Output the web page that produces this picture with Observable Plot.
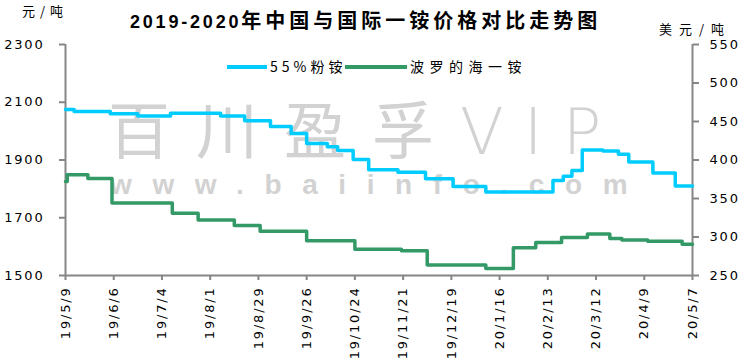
<!DOCTYPE html>
<html><head><meta charset="utf-8">
<script src="https://cdn.jsdelivr.net/npm/d3@7"></script>
<script src="https://cdn.jsdelivr.net/npm/@observablehq/plot@0.6"></script>
<style>
body{margin:0;background:#fff;}
#wrap{position:relative;width:748px;height:362px;overflow:hidden;background:#fff;font-family:"Noto Sans CJK SC","DejaVu Sans",sans-serif;color:#000;}
.abs{position:absolute;white-space:nowrap;line-height:1;}
#chart{position:absolute;left:0;top:0;}
.wm{color:#d2d2d2;}
</style></head><body>
<div id="wrap">
  <div class="abs wm" style="left:108px;top:96px;font-size:62px;font-weight:400;letter-spacing:26px;">百川盈孚<span style="font-family:'DejaVu Sans';font-weight:200;font-size:64px;letter-spacing:20px;">VIP</span></div>
  <div class="abs wm" style="left:110px;top:171px;font-family:'Liberation Sans';font-weight:bold;font-size:28px;letter-spacing:20.6px;">www.baiinfo.com</div>
  <div id="chart"></div>
  <div class="abs" style="left:130px;top:8px;line-height:24px;font-weight:bold;"><span style="font-family:'Liberation Sans';font-size:18px;letter-spacing:2.8px;">2019-2020</span><span style="font-family:'Noto Sans CJK SC';font-size:20px;letter-spacing:4px;">年中国与国际一铵价格对比走势图</span></div>
  <div class="abs" style="left:22px;top:4px;font-size:13px;letter-spacing:5px;">元/吨</div>
  <div class="abs" style="left:659px;top:22px;font-size:13px;letter-spacing:7px;">美元/吨</div>
  <div class="abs" style="left:227px;top:65px;width:40px;height:4px;background:#00ccff;"></div>
  <div class="abs" style="left:270px;top:59px;font-size:14px;letter-spacing:4px;">55%粉铵</div>
  <div class="abs" style="left:345px;top:65px;width:62px;height:4px;background:#339966;"></div>
  <div class="abs" style="left:410px;top:59px;font-size:14px;letter-spacing:5.5px;">波罗的海一铵</div>
</div>
<script>
const tickLabels = ["19/5/9","19/6/6","19/7/4","19/8/1","19/8/29","19/9/26","19/10/24","19/11/21","19/12/19","20/1/16","20/2/13","20/3/12","20/4/9","20/5/7"];
const leftTicks = [1500, 1700, 1900, 2100, 2300];
const rightTicks = [250, 300, 350, 400, 450, 500, 550];

// 55%粉铵 (元/吨)
const cyanDates = ["2019-05-09","2019-05-14","2019-06-04","2019-06-20","2019-07-09","2019-08-07","2019-08-21","2019-09-05","2019-09-17","2019-09-26","2019-10-08","2019-10-14","2019-10-23","2019-11-01","2019-11-18","2019-12-04","2019-12-20","2020-01-08","2020-02-16","2020-02-22","2020-02-27","2020-03-04","2020-03-16","2020-03-25","2020-03-31","2020-04-14","2020-04-27","2020-05-07"];
const cyanValues = [2075,2068,2060,2052,2062,2052,2036,2016,1992,1957,1946,1933,1902,1866,1858,1835,1808,1789,1829,1844,1864,1935,1931,1920,1893,1855,1810,1810];

// 波罗的海一铵 (美元/吨)
const greenDates = ["2019-05-09","2019-05-10","2019-05-22","2019-06-05","2019-07-10","2019-07-25","2019-08-15","2019-08-30","2019-09-26","2019-10-24","2019-11-20","2019-12-05","2020-01-08","2020-01-24","2020-02-06","2020-02-21","2020-03-07","2020-03-20","2020-03-27","2020-04-11","2020-05-01","2020-05-07"];
const greenValues = [372,381,376,344,331,322,315,307.5,295,284,282,263.5,259,286,293,299.5,304,298,296,294.5,290.5,290.5];

const parseTick = s => { const [y, m, d] = s.split("/").map(Number); return new Date(Date.UTC(2000 + y, m - 1, d)); };
const tickDates = tickLabels.map(parseTick);
const L0 = leftTicks[0], L1 = leftTicks[leftTicks.length - 1];
const R0 = rightTicks[0], R1 = rightTicks[rightTicks.length - 1];
const toLeft = v => L0 + (v - R0) * (L1 - L0) / (R1 - R0);
const toRight = v => R0 + (v - L0) * (R1 - R0) / (L1 - L0);

const cyan = cyanDates.map((d, i) => ({date: new Date(d), value: cyanValues[i]}));
const green = greenDates.map((d, i) => ({date: new Date(d), value: toLeft(greenValues[i])}));
const labelOf = d => tickLabels[tickDates.findIndex(t => +t === +d)];

const axisGrey = "#868686";
const chart = Plot.plot({
  width: 748, height: 362,
  marginLeft: 65, marginRight: 56, marginTop: 44, marginBottom: 87,
  style: {background: "transparent", fontFamily: "'DejaVu Sans', sans-serif", fontSize: "13px", letterSpacing: "1.8px", color: "#000", overflow: "visible"},
  x: {type: "utc", domain: [tickDates[0], tickDates[tickDates.length - 1]]},
  y: {domain: [L0, L1]},
  marks: [
    Plot.ruleX([tickDates[0]], {stroke: axisGrey, strokeWidth: 2}),
    Plot.ruleX([tickDates[tickDates.length - 1]], {stroke: axisGrey, strokeWidth: 2}),
    Plot.ruleY([L0], {stroke: axisGrey, strokeWidth: 2}),
    Plot.axisY(leftTicks, {anchor: "left", tickSize: 6, tickPadding: 15, stroke: axisGrey, strokeWidth: 2, fill: "#000", label: null, fontSize: 13, tickFormat: d => String(d)}),
    Plot.axisY(rightTicks.map(toLeft), {anchor: "right", tickSize: 6, tickPadding: 11, stroke: axisGrey, strokeWidth: 2, fill: "#000", label: null, fontSize: 13, tickFormat: d => String(Math.round(toRight(d)))}),
    Plot.axisX(tickDates, {anchor: "bottom", tickSize: 5, tickPadding: 6, tickRotate: -90, stroke: axisGrey, strokeWidth: 2, fill: "#000", label: null, fontSize: 13, tickFormat: labelOf}),
    Plot.line(green, {x: "date", y: "value", stroke: "#339966", strokeWidth: 3.5, curve: "step-after"}),
    Plot.line(cyan, {x: "date", y: "value", stroke: "#00ccff", strokeWidth: 3.5, curve: "step-after"})
  ]
});
document.getElementById("chart").appendChild(chart);
</script>
</body></html>
